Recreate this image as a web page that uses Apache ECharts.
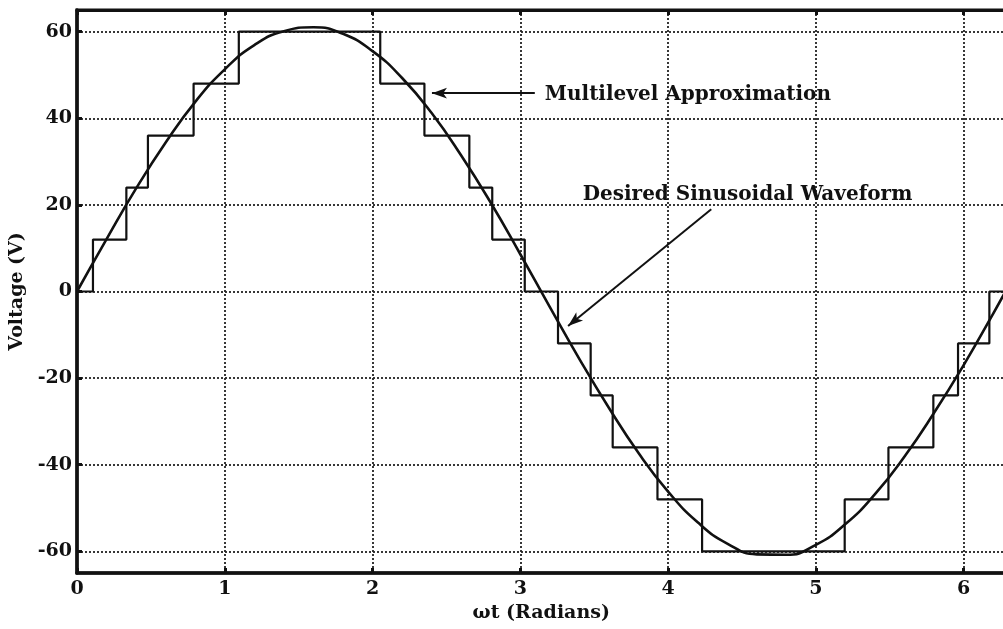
<!DOCTYPE html>
<html>
<head>
<meta charset="utf-8">
<script src="https://cdn.jsdelivr.net/npm/echarts@6/dist/echarts.min.js"></script>
<style>
html,body{margin:0;padding:0;background:#fff;overflow:hidden;}
#c{width:1003px;height:629px;}
</style>
</head>
<body>
<div id="c"></div>
<script>
// ---- data ----
const xTicks = [0, 1, 2, 3, 4, 5, 6];
const yTicks = [-60, -40, -20, 0, 20, 40, 60];
const xMax = 6.2832;

// Desired sinusoidal waveform
const sineX = [0, 0.2, 0.4, 0.6, 0.8, 1.0, 1.2, 1.4, 1.6, 1.8, 2.0, 2.2, 2.4, 2.6, 2.8, 3.0,
  3.2, 3.4, 3.6, 3.8, 4.0, 4.2, 4.4, 4.6, 4.8, 5.0, 5.2, 5.4, 5.6, 5.8, 6.0, 6.2, 6.2832];
const sineY = [0, 12.1, 23.8, 34.4, 43.8, 51.3, 56.9, 60.1, 61.0, 59.5, 55.5, 49.3, 41.2, 31.4, 20.5, 8.6,
  -3.6, -15.6, -26.9, -37.3, -46.2, -53.3, -58.2, -60.7, -60.8, -58.5, -53.7, -46.8, -38.1, -28.0, -17.0, -5.1, 0];

// Multilevel approximation: switching angles and the new level after each switch
const stepX = [0, 0.108, 0.334, 0.480, 0.789, 1.095, 2.052, 2.351, 2.655, 2.810, 3.030,
  3.255, 3.476, 3.625, 3.928, 4.230, 5.195, 5.491, 5.795, 5.962, 6.174, 6.2832];
const stepLevels = [0, 12, 24, 36, 48, 60, 48, 36, 24, 12, 0,
  -12, -24, -36, -48, -60, -48, -36, -24, -12, 0, 0];

// annotation anchors in data units
const labelMulti = {text: 'Multilevel Approximation', at: [3.166, 45.5]};
const arrowMulti = [[3.098, 45.8], [2.402, 45.8]];
const labelSine = {text: 'Desired Sinusoidal Waveform', at: [3.422, 22.4]};
const arrowSine = [[4.292, 19.0], [3.323, -7.95]];

// ---- chart ----
const INK = '#111';
const font = {fontFamily: 'DejaVu Serif', fontWeight: 'bold', color: INK};
const sineData = sineX.map((x, i) => [x, sineY[i]]);
const stepData = stepX.map((x, i) => [x, stepLevels[i]]);

const gridLine = {show: true, lineStyle: {color: '#222', width: 1.8, type: [2, 2]}};

const chart = echarts.init(document.getElementById('c'), null, {renderer: 'canvas'});
chart.setOption({
  animation: false,
  backgroundColor: '#fff',
  grid: {left: 77, top: 10, width: 928.5, bottom: 56, show: true, borderColor: INK, borderWidth: 3,
         containLabel: false, outerBoundsMode: 'none'},
  xAxis: [{
    type: 'value', min: 0, max: xMax,
    axisLine: {show: true, onZero: false, lineStyle: {color: INK, width: 3.5}},
    axisTick: {show: true, inside: true, length: 5, lineStyle: {color: INK, width: 3}, customValues: xTicks},
    axisLabel: Object.assign({fontSize: 19, margin: 7, customValues: xTicks}, font),
    splitLine: gridLine,
    name: 'ωt (Radians)', nameLocation: 'middle', nameGap: 31,
    nameTextStyle: Object.assign({fontSize: 19}, font)
  }, {
    type: 'value', min: 0, max: xMax, position: 'top',
    axisLine: {show: true, onZero: false, lineStyle: {color: INK, width: 3}},
    axisTick: {show: true, inside: true, length: 5, lineStyle: {color: INK, width: 3}, customValues: xTicks},
    axisLabel: {show: false},
    splitLine: {show: false}
  }],
  yAxis: [{
    type: 'value', min: -65, max: 65,
    axisLine: {show: true, onZero: false, lineStyle: {color: INK, width: 3.5}},
    axisTick: {show: true, inside: true, length: 5, lineStyle: {color: INK, width: 3}, customValues: yTicks},
    axisLabel: Object.assign({fontSize: 19, margin: 5, customValues: yTicks}, font),
    splitLine: gridLine,
    name: 'Voltage (V)', nameLocation: 'middle', nameRotate: 90, nameGap: 49,
    nameTextStyle: Object.assign({fontSize: 19}, font)
  }],
  series: [{
    type: 'line', name: 'Multilevel Approximation', data: stepData, step: 'end',
    showSymbol: false, symbol: 'none',
    lineStyle: {color: INK, width: 2.2}
  }, {
    type: 'line', name: 'Desired Sinusoidal Waveform', data: sineData, smooth: 0.5,
    showSymbol: false, symbol: 'none',
    lineStyle: {color: INK, width: 2.6},
    markLine: {
      silent: true, symbol: ['none', 'arrow'], symbolSize: [8, 15],
      label: {show: false},
      lineStyle: {color: INK, width: 2, type: 'solid'},
      data: [
        [{coord: arrowMulti[0]}, {coord: arrowMulti[1]}],
        [{coord: arrowSine[0]}, {coord: arrowSine[1]}]
      ]
    },
    markPoint: {
      silent: true, symbol: 'circle', symbolSize: 0,
      label: Object.assign({show: true, position: 'right', distance: 0, fontSize: 20, formatter: '{b}'}, font),
      data: [
        {name: labelMulti.text, coord: labelMulti.at},
        {name: labelSine.text, coord: labelSine.at}
      ]
    }
  }]
});
</script>
</body>
</html>
